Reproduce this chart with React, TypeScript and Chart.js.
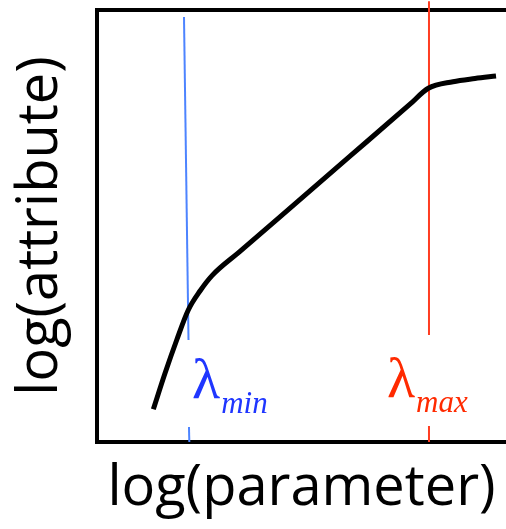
import React, { useEffect, useRef } from "react";
import { Chart, registerables } from "chart.js";

Chart.register(...registerables);

// Main curve: log(parameter) vs log(attribute) (arbitrary units 0..100)
const paramLog = [13.77, 16.63, 19.49, 22.32, 25.18, 28.12, 34.96, 44.74, 61.86, 76.53, 81.0, 87.04, 92.42, 97.56];
const attrLog = [7.57, 15.9, 23.61, 30.56, 34.95, 38.52, 44.12, 52.13, 66.16, 78.19, 81.88, 83.4, 84.14, 84.72];

// lambda_min marker line (upper and lower pieces)
const lamMinUpperX = [21.27, 22.37];
const lamMinUpperY = [98.38, 23.61];
const lamMinLowerX = [22.49, 22.57];
const lamMinLowerY = [3.47, 0];

// lambda_max marker line (upper and lower pieces)
const lamMaxUpperX = [81.17, 81.17];
const lamMaxUpperY = [102.0, 24.77];
const lamMaxLowerX = [81.17, 81.17];
const lamMaxLowerY = [3.7, 0];

// Annotation labels
const labelSubs = ["min", "max"];
const labelX = [23.23, 70.9];
const labelY = [10.19, 10.42];
const labelColors = ["#1f36ff", "#ff2a00"];

const toPts = (xs: number[], ys: number[]) => xs.map((v, i) => ({ x: v, y: ys[i] }));

const lambdaPlugin = {
  id: "lambdaLabels",
  afterDatasetsDraw(chart: any) {
    const { ctx, scales } = chart;
    const xs = scales.x;
    const ys = scales.y;
    ctx.save();
    labelSubs.forEach((sub, i) => {
      const px = xs.getPixelForValue(labelX[i]);
      const py = ys.getPixelForValue(labelY[i]);
      ctx.fillStyle = labelColors[i];
      ctx.textAlign = "left";
      ctx.textBaseline = "alphabetic";
      ctx.font = '58px "Liberation Serif"';
      ctx.fillText("\u03bb", px, py);
      const w = ctx.measureText("\u03bb").width;
      ctx.font = 'italic 31px "Liberation Serif"';
      ctx.fillText(sub, px + w + 1, py + 15);
    });
    ctx.restore();
  },
};

export default function App() {
  const ref = useRef<HTMLCanvasElement | null>(null);
  useEffect(() => {
    if (!ref.current) return;
    const thin = (color: string, xs: number[], ys: number[], label: string) => ({
      type: "line" as const,
      label,
      data: toPts(xs, ys),
      borderColor: color,
      borderWidth: 2,
      pointRadius: 0,
      tension: 0,
      clip: false as any,
    });
    const chart = new Chart(ref.current, {
      type: "line",
      data: {
        datasets: [
          {
            label: "attribute",
            data: toPts(paramLog, attrLog),
            borderColor: "#000000",
            borderWidth: 5,
            pointRadius: 0,
            cubicInterpolationMode: "monotone",
            borderCapStyle: "butt",
            borderJoinStyle: "round",
          },
          thin("#4d84ff", lamMinUpperX, lamMinUpperY, "lambda min"),
          thin("#4d84ff", lamMinLowerX, lamMinLowerY, "lambda min 2"),
          thin("#ff3d22", lamMaxUpperX, lamMaxUpperY, "lambda max"),
          thin("#ff3d22", lamMaxLowerX, lamMaxLowerY, "lambda max 2"),
        ],
      },
      options: {
        animation: false,
        responsive: false,
        devicePixelRatio: 1,
        layout: { padding: 0 },
        plugins: { legend: { display: false }, tooltip: { enabled: false } },
        scales: {
          x: {
            type: "linear",
            position: "bottom",
            min: 0,
            max: 100,
            grid: { display: false, drawTicks: false },
            border: { display: true, color: "#000", width: 4 },
            ticks: { display: false },
            title: {
              display: true,
              text: "log(parameter)",
              color: "#000",
              font: { family: "Open Sans", size: 56 },
              padding: { top: 0, bottom: 6 },
            },
            afterFit: (s: any) => {
              s.height = 87;
            },
          },
          x2: {
            type: "linear",
            position: "top",
            min: 0,
            max: 100,
            grid: { display: false, drawTicks: false },
            border: { display: true, color: "#000", width: 4 },
            ticks: { display: false },
            afterFit: (s: any) => {
              s.height = 10;
            },
          },
          y: {
            type: "linear",
            position: "left",
            min: 0,
            max: 100,
            grid: { display: false, drawTicks: false },
            border: { display: true, color: "#000", width: 4 },
            ticks: { display: false },
            title: {
              display: true,
              text: "log(attribute)",
              color: "#000",
              font: { family: "Open Sans", size: 56 },
              padding: { top: 7, bottom: 0 },
            },
            afterFit: (s: any) => {
              s.width = 97;
            },
          },
        },
      } as any,
      plugins: [lambdaPlugin],
    });
    return () => chart.destroy();
  }, []);
  return (
    <div style={{ position: "absolute", left: 0, top: 0, width: 506, height: 529, background: "#fff" }}>
      <canvas ref={ref} width={506} height={529} style={{ display: "block" }} />
    </div>
  );
}
